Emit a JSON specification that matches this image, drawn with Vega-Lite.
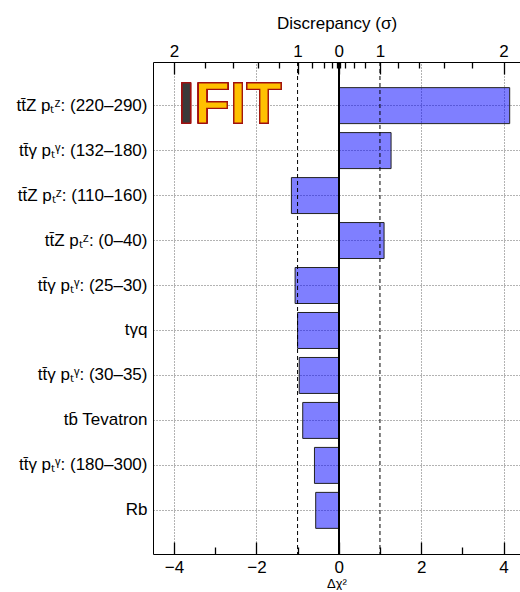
{
  "$schema": "https://vega.github.io/schema/vega-lite/v6.json",
  "width": 520,
  "height": 492,
  "autosize": {"type": "fit-x", "contains": "padding"},
  "padding": {"left": 5, "right": 0, "top": 14, "bottom": 0},
  "config": {
    "view": {"stroke": null},
    "font": "Liberation Sans",
    "axis": {
      "domainColor": "black",
      "domainWidth": 1,
      "tickColor": "black",
      "tickWidth": 1.3,
      "labelColor": "black",
      "titleColor": "black",
      "labelFontSize": 17,
      "titleFontWeight": "normal"
    }
  },
  "data": {
    "values": [
      {"label": "tt̄Z pₜᶻ: (220–290)", "value": 4.15},
      {"label": "tt̄γ pₜᵞ: (132–180)", "value": 1.27},
      {"label": "tt̄Z pₜᶻ: (110–160)", "value": -1.15},
      {"label": "tt̄Z pₜᶻ: (0–40)", "value": 1.1},
      {"label": "tt̄γ pₜᵞ: (25–30)", "value": -1.06},
      {"label": "tγq", "value": -1.0},
      {"label": "tt̄γ pₜᵞ: (30–35)", "value": -0.96},
      {"label": "tb̄ Tevatron", "value": -0.875},
      {"label": "tt̄γ pₜᵞ: (180–300)", "value": -0.59},
      {"label": "Rb", "value": -0.56}
    ]
  },
  "layer": [
    {
      "mark": {"type": "bar", "fill": "#0000ff", "fillOpacity": 0.5, "stroke": "#222222", "strokeWidth": 1},
      "encoding": {
        "y": {
          "field": "label",
          "type": "nominal",
          "sort": null,
          "scale": {"paddingInner": 0.2, "paddingOuter": 0.57},
          "axis": {
            "title": null,
            "ticks": false,
            "labelPadding": 6,
            "labelFontSize": 17,
            "labelLimit": 0,
            "grid": true,
            "gridDash": [1, 2],
            "gridColor": "#666666",
            "bandPosition": 0.5,
            "minExtent": 148,
            "maxExtent": 148
          }
        },
        "x": {
          "field": "value",
          "type": "quantitative",
          "scale": {"domain": [-4.51, 4.4], "nice": false, "zero": false},
          "axis": {
            "orient": "bottom",
            "values": [-4, -2, 0, 2, 4],
            "ticks": false,
            "labelPadding": 5,
            "grid": true,
            "gridDash": [1, 2],
            "gridColor": "#666666",
            "title": "Δχ²",
            "titleFontSize": 13,
            "titlePadding": 2,
            "minExtent": 21,
            "maxExtent": 21
          }
        },
        "x2": {"datum": 0}
      }
    },
    {
      "data": {"values": [{"s": -1}, {"s": 1}]},
      "mark": {"type": "rule", "color": "black", "strokeWidth": 1, "strokeDash": [4, 3]},
      "encoding": {
        "x": {
          "field": "s",
          "type": "quantitative",
          "scale": {"domain": [-4.51, 4.4], "nice": false, "zero": false},
          "axis": {
            "orient": "top",
            "values": [-4, -1, 0, 1, 4],
            "labelExpr": "format(sqrt(abs(datum.value)), 'd')",
            "ticks": false,
            "labelPadding": 2,
            "grid": false,
            "title": "Discrepancy (σ)",
            "titleFontSize": 17,
            "titlePadding": 10,
            "minExtent": 20,
            "maxExtent": 20
          }
        }
      }
    },
    {
      "mark": {"type": "rule", "color": "black", "strokeWidth": 1.5},
      "encoding": {
        "x": {
          "datum": 0,
          "type": "quantitative",
          "axis": {
            "orient": "bottom",
            "offset": -492,
            "values": [-4, -1, 0, 1, 4],
            "tickSize": 12,
            "labels": false,
            "domain": false,
            "grid": false,
            "title": null,
            "minExtent": 0,
            "maxExtent": 0
          }
        }
      }
    },
    {
      "mark": {"type": "text", "text": "I", "fontSize": 58, "fontWeight": "bold", "align": "left", "baseline": "middle", "fill": "#3a3a3a", "stroke": "#a01010", "strokeWidth": 1.2},
      "encoding": {
        "x": {
          "datum": -3.9,
          "type": "quantitative",
          "axis": {
            "orient": "bottom",
            "offset": -492,
            "values": [-3.24, -2.56, -1.96, -1.44, -0.64, -0.36, -0.16, -0.04, 0.04, 0.16, 0.36, 0.64, 1.44, 1.96, 2.56, 3.24],
            "tickSize": 6,
            "labels": false,
            "domain": false,
            "grid": false,
            "title": null,
            "minExtent": 0,
            "maxExtent": 0
          }
        },
        "y": {"datum": "tt̄Z pₜᶻ: (220–290)", "type": "nominal", "axis": null}
      }
    },
    {
      "mark": {"type": "text", "text": "FIT", "fontSize": 58, "fontWeight": "bold", "align": "left", "baseline": "middle", "fill": "#ffc000", "stroke": "#a01010", "strokeWidth": 1.2},
      "encoding": {
        "x": {
          "datum": -3.5,
          "type": "quantitative",
          "axis": {
            "orient": "top",
            "offset": -492,
            "values": [-4, -2, 0, 2, 4],
            "tickSize": 12,
            "labels": false,
            "domain": false,
            "grid": false,
            "title": null,
            "minExtent": 0,
            "maxExtent": 0
          }
        },
        "y": {"datum": "tt̄Z pₜᶻ: (220–290)", "type": "nominal", "axis": null}
      }
    },
    {
      "mark": {"type": "rule", "opacity": 0},
      "encoding": {
        "x": {
          "datum": 0,
          "type": "quantitative",
          "axis": {
            "orient": "top",
            "offset": -492,
            "values": [-3, -1, 1, 3],
            "tickSize": 7,
            "labels": false,
            "domain": false,
            "grid": false,
            "title": null,
            "minExtent": 0,
            "maxExtent": 0
          }
        }
      }
    }
  ],
  "resolve": {"axis": {"x": "independent", "y": "independent"}}
}
